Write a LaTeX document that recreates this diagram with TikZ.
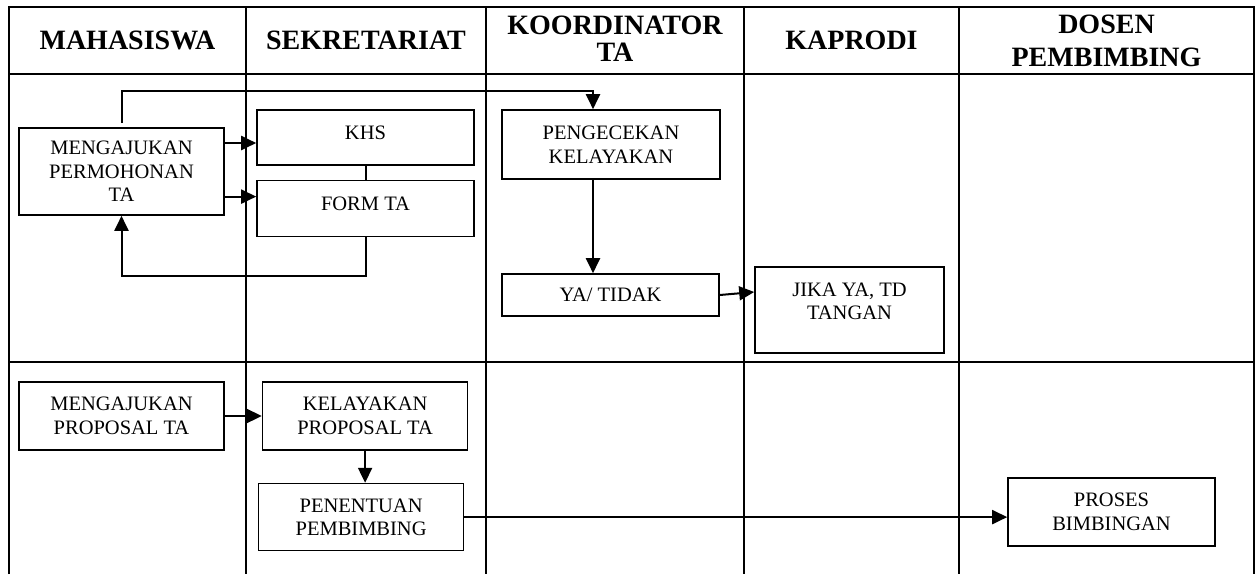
\documentclass[tikz,border=0pt]{standalone}
\usepackage{fontspec}
\setmainfont{Liberation Serif}
\usetikzlibrary{positioning, arrows.meta}

\begin{document}
\begin{tikzpicture}[
  x=1pt, y=-1pt,
  lane/.style={line width=2.5pt},
  head/.style={font=\fontsize{28}{25}\selectfont\bfseries, align=center},
  proc/.style={
    draw, line width=1.6pt, fill=white, align=center, inner sep=0pt,
    font=\fontsize{20.5}{23.5}\selectfont
  },
  flow/.style={line width=2pt, -{Triangle[length=15pt,width=14pt]}},
]
\useasboundingbox (0,0) rectangle (1258,574);

% Swimlane grid
\draw[lane] (9,574) -- (9,7) -- (1254,7) -- (1254,574);
\foreach \x in {246,486,744,959} \draw[lane] (\x,7) -- (\x,574);
\foreach \y in {74,362} \draw[lane] (9,\y) -- (1254,\y);

% Lane titles
\node[head] (hmhs) at (127.5,40) {MAHASISWA};
\node[head] (hsek) at (366,40) {SEKRETARIAT};
\node[head] (hkoor) at (615,38.5) {KOORDINATOR\\[2pt]TA};
\node[head] (hkap) at (851.5,40) {KAPRODI};
\node[head] (hdos) at (1106.5,40.5) {DOSEN\\[8pt]PEMBIMBING};

% Permohonan TA
\node[proc, minimum width=205pt, minimum height=87pt] (permohonan) at (121.5,171.5) {MENGAJUKAN\\PERMOHONAN\\TA};
\node[proc, minimum width=217pt, minimum height=55pt, text depth=9pt] (khs) at (365.5,137.5) {KHS};
\node[proc, minimum width=217pt, minimum height=56pt, text depth=9pt, below=14pt of khs] (form) {FORM TA};
\node[proc, minimum width=218pt, minimum height=69pt] (pengecekan) at (611,144.5) {PENGECEKAN\\KELAYAKAN};
\node[proc, minimum width=217pt, minimum height=42pt] (yatidak) at (610.5,295) {YA/ TIDAK};
\node[proc, minimum width=189pt, minimum height=86pt, text depth=18pt] (jika) at (849.5,310) {JIKA YA, TD\\TANGAN};

% Proposal TA
\node[proc, minimum width=205pt, minimum height=68pt] (proposal) at (121.5,416) {MENGAJUKAN\\PROPOSAL TA};
\node[proc, minimum width=205pt, minimum height=68pt, right=37pt of proposal] (kelayakan) {KELAYAKAN\\PROPOSAL TA};
\node[proc, minimum width=205pt, minimum height=67pt, below=32pt of kelayakan, xshift=-4pt] (penentuan) {PENENTUAN\\PEMBIMBING};
\node[proc, minimum width=207pt, minimum height=68pt] (proses) at (1111.5,512) {PROSES\\BIMBINGAN};

% Alur
\coordinate (khsin) at ([yshift=-5.5pt]khs.west);
\coordinate (formin) at ([yshift=12pt]form.west);
\coordinate (cekin) at ([xshift=-18pt]pengecekan.north);
\draw[flow] (permohonan.east |- khsin) -- (khsin);
\draw[flow] (permohonan.east |- formin) -- (formin);
\draw[line width=2pt] (khs.south) -- (form.north);
\draw[flow] (form.south) -- ++(0,39) -| (permohonan.south);
\draw[flow, shorten <=4pt] (permohonan.north) -- ++(0,-36) -| (cekin);
\draw[flow] (cekin |- pengecekan.south) -- (cekin |- yatidak.north);
\draw[flow] (yatidak.east) -- ([yshift=18pt]jika.west);
\draw[flow] (proposal.east) -- (kelayakan.west);
\draw[flow] (kelayakan.south) -- (kelayakan.south |- penentuan.north);
\draw[flow] (penentuan.east) -- (penentuan.east -| proses.west);

\end{tikzpicture}
\end{document}
